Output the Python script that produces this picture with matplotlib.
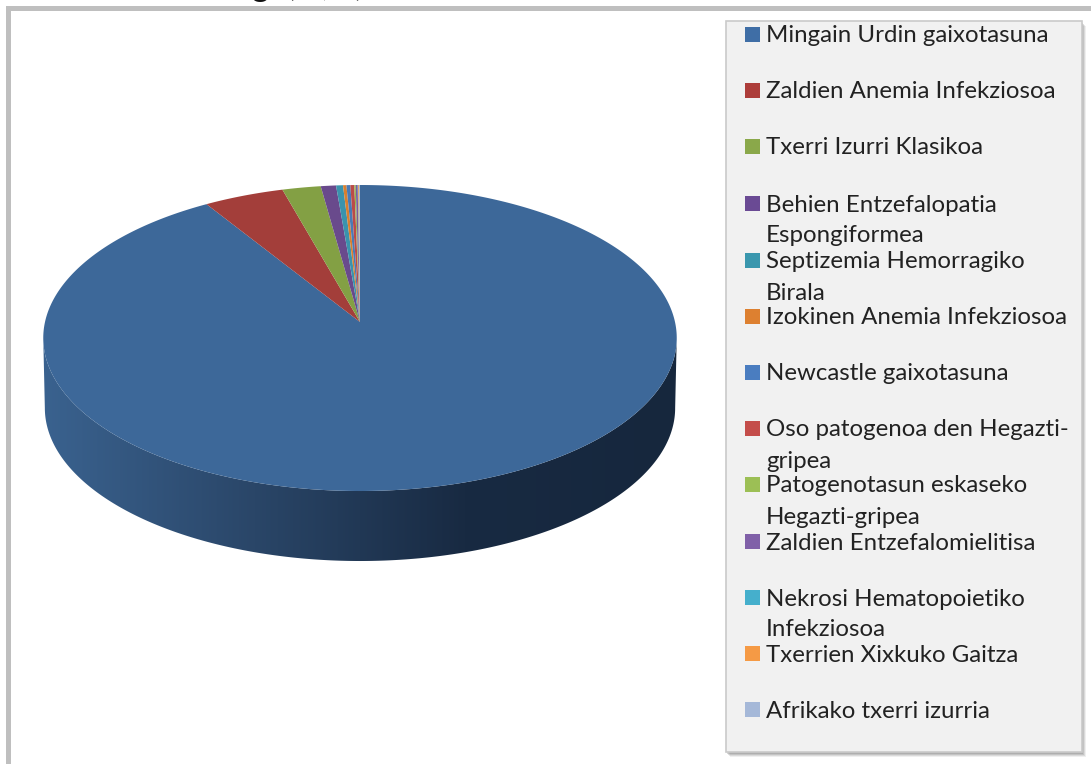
import matplotlib
matplotlib.use('Agg')
import matplotlib.pyplot as plt
from matplotlib.colors import LinearSegmentedColormap
from matplotlib.patches import Polygon, Rectangle
import numpy as np

plt.rcParams['font.family'] = ['Lato', 'DejaVu Sans']

labels = [
    'Mingain Urdin gaixotasuna',
    'Zaldien Anemia Infekziosoa',
    'Txerri Izurri Klasikoa',
    'Behien Entzefalopatia\nEspongiformea',
    'Septizemia Hemorragiko\nBirala',
    'Izokinen Anemia Infekziosoa',
    'Newcastle gaixotasuna',
    'Oso patogenoa den Hegazti-\ngripea',
    'Patogenotasun eskaseko\nHegazti-gripea',
    'Zaldien Entzefalomielitisa',
    'Nekrosi Hematopoietiko\nInfekziosoa',
    'Txerrien Xixkuko Gaitza',
    'Afrikako txerri izurria',
]
values = [91.1, 4.53, 2.17, 0.86, 0.39, 0.19, 0.22, 0.22, 0.08, 0.11, 0.03, 0.05, 0.05]
legend_colors = ['#3f6ea6', '#ad3d3a', '#8aa84a', '#6a4a94', '#3a97ae', '#dd8030', '#4a7dc0',
                 '#c44d4a', '#9cbf55', '#8060a8', '#45afcc', '#f59a45', '#a5b8d8']
slice_colors = ['#3d6899', '#a33e3a', '#83a044', '#694a8c', '#3a93ad', '#d97f2e', '#4a7ab5',
                '#bb4b48', '#94b552', '#7a5ca0', '#42a8c4', '#ee9440', '#9fb2d0']
legend_y = [36, 92, 148, 205, 262, 318, 374, 430, 486, 543, 599, 655, 711]

fig = plt.figure(figsize=(10.91, 7.64), dpi=100)
ax = fig.add_axes([0, 0, 1, 1])


# tilted pie: circle -> screen with a bit of perspective
def project(phi):
    # phi is clockwise from 12 o'clock, in radians
    s = np.cos(phi)
    d = 1 + 0.1046 * s
    return 360 + 315 * np.sin(phi) / d, (322 - 117.65 * s) / d


# side wall first, one gradient clipped to its outline
side = LinearSegmentedColormap.from_list('side', ['#3a628f', '#2a4668', '#182a42', '#16273d'])
x, y = project(np.radians(np.linspace(96, 264, 300)))
x2 = 360 + (x - 360) * 0.995
outline = Polygon(np.c_[np.r_[x, x2[::-1]], np.r_[y, y[::-1] + 70]], transform=ax.transData, fc='none', ec='none')
ax.add_patch(outline)
im = ax.imshow(np.linspace(0, 1, 256)[None, :], cmap=side, extent=(43, 677, 570, 320), aspect='auto', zorder=1)
im.set_clip_path(outline)

# top face
edges = np.concatenate([[0], np.cumsum(values)]) / sum(values) * 2 * np.pi
for i in range(len(values)):
    n = max(3, int((edges[i + 1] - edges[i]) * 120))
    x, y = project(np.linspace(edges[i], edges[i + 1], n))
    ax.fill(np.r_[360, x], np.r_[322, y], color=slice_colors[i], lw=0, zorder=2 + (i > 0))

# legend box, shadow is a few stacked rectangles
for off, a in [(5, 0.12), (4, 0.18), (3, 0.25), (2, 0.3)]:
    ax.add_patch(Rectangle((726 + off - 1, 21 + off), 356, 731, fc='#808080', ec='none', alpha=a, zorder=4))
ax.add_patch(Rectangle((726, 21), 356, 731, fc='#f1f1f1', ec='#cacaca', lw=1.2, zorder=5))
for label, col, y in zip(labels, legend_colors, legend_y):
    ax.add_patch(Rectangle((744.5, y - 9.5), 15, 15, fc=col, ec='none', zorder=6))
    for k, line in enumerate(label.split('\n')):
        ax.text(766, y + k * 31, line, fontsize=17.3, color='#222222', va='center', ha='left', zorder=6)

# outer frame and the cut title above it
ax.plot([7.5, 7.5, 1091], [764, 7.5, 7.5], color='#bfbfbf', lw=3.6, solid_joinstyle='miter', zorder=7)
ax.text(252, -4, 'g  (%,   )', fontsize=24, color='#111111', va='baseline', ha='left', clip_on=True)

ax.set_xlim(0, 1091)
ax.set_ylim(764, 0)
ax.axis('off')

fig.savefig('out.png', dpi=100, facecolor='white')
